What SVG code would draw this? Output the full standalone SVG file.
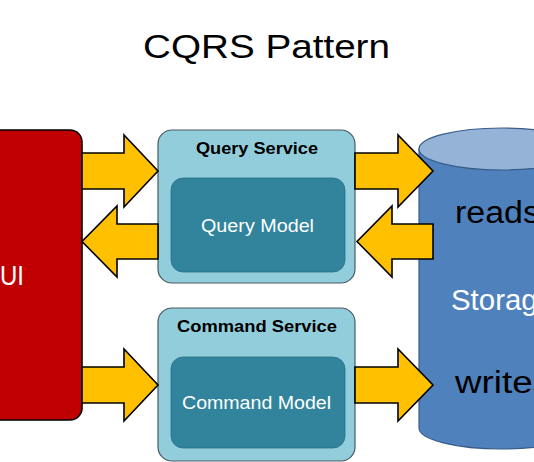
<svg xmlns="http://www.w3.org/2000/svg" width="534" height="462" viewBox="0 0 534 462">
<style>
.t{font-family:"Liberation Sans",Arial,sans-serif}
.svc{fill:#92CDDC;stroke:#4a5a60;stroke-width:1.2}
.mdl{fill:#31849B;stroke:#2a7085;stroke-width:0.8}
.arr{fill:#FFC000;stroke:#000;stroke-width:1.6;stroke-linejoin:miter}
</style>
<rect width="534" height="462" fill="#fff"/>
<text class="t" x="266.5" y="58" font-size="34" text-anchor="middle" textLength="247" lengthAdjust="spacingAndGlyphs" fill="#000">CQRS Pattern</text>
<g id="ui">
<rect x="-20" y="130" width="102" height="290" rx="12" fill="#C00000" stroke="#000" stroke-width="1.6"/>
<text class="t" x="0" y="285" font-size="27" fill="#fff" textLength="24" lengthAdjust="spacingAndGlyphs">UI</text>
</g>
<g id="query-service">
<rect class="svc" x="158" y="130" width="197" height="153" rx="14"/>
<text class="t" x="257" y="154" font-size="16" font-weight="bold" text-anchor="middle" textLength="122" lengthAdjust="spacingAndGlyphs">Query Service</text>
<g id="query-model">
<rect class="mdl" x="171" y="178" width="174" height="94" rx="12"/>
<text class="t" x="257.5" y="232" font-size="17.5" fill="#fff" text-anchor="middle" textLength="113" lengthAdjust="spacingAndGlyphs">Query Model</text>
</g>
</g>
<g id="command-service">
<rect class="svc" x="158" y="308" width="197" height="153" rx="14"/>
<text class="t" x="257" y="332" font-size="16" font-weight="bold" text-anchor="middle" textLength="160" lengthAdjust="spacingAndGlyphs">Command Service</text>
<g id="command-model">
<rect class="mdl" x="171" y="357" width="174" height="91" rx="12"/>
<text class="t" x="256.5" y="409" font-size="17.5" fill="#fff" text-anchor="middle" textLength="149" lengthAdjust="spacingAndGlyphs">Command Model</text>
</g>
</g>
<g id="storage">
<path d="M419,149 V428 A83,21 0 0 0 585,428 V149 Z" fill="#4F81BD" stroke="#385D8A" stroke-width="1.2"/>
<ellipse cx="502" cy="149" rx="83" ry="21" fill="#95B3D7" stroke="#385D8A" stroke-width="1.2"/>
<text class="t" x="455" y="223" font-size="31" fill="#000" textLength="85" lengthAdjust="spacingAndGlyphs">reads</text>
<text class="t" x="451" y="310" font-size="29" fill="#fff" textLength="103" lengthAdjust="spacingAndGlyphs">Storage</text>
<text class="t" x="455" y="393" font-size="31" fill="#000" textLength="96" lengthAdjust="spacingAndGlyphs">writes</text>
</g>
<g id="connectors">
<path class="arr" d="M82,153 H124 V135 L158,171 L124,207 V189 H82 Z"/>
<path class="arr" d="M158,224 H117 V206 L82,241.5 L117,277 V259 H158 Z"/>
<path class="arr" d="M355,153 H398 V135 L433,171 L398,207 V189 H355 Z"/>
<path class="arr" d="M433,224 H392 V206 L357,241.5 L392,277 V259 H433 Z"/>
<path class="arr" d="M82,367 H124 V349 L158,385 L124,421 V403 H82 Z"/>
<path class="arr" d="M355,367 H398 V349 L433,385 L398,421 V403 H355 Z"/>
</g>
</svg>
